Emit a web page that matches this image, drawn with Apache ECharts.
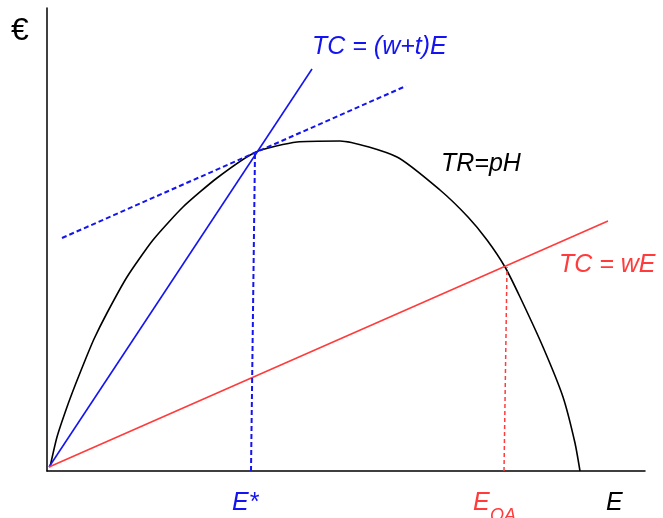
<!DOCTYPE html>
<html>
<head>
<meta charset="utf-8">
<script src="https://cdn.jsdelivr.net/npm/echarts@6/dist/echarts.min.js"></script>
<style>html,body{margin:0;padding:0;background:#fff;}#c{width:663px;height:518px;}</style>
</head>
<body>
<div id="c"></div>
<script>
// Total revenue curve TR = pH (E, euros)
var trCurve = [[3,4],[10,34],[20,64],[29,88],[39,113],[47,132],[60,158],[80,194],[106,231],[136,264],[170,293],[209,319],[250,329],[293,330],[350,314],[393,281],[421,254],[440,231],[458,204],[473,174],[496,124],[516,74],[528,28],[533,0]];
// TC = (w+t)E
var tcTax = [[2,4],[265,402]];
// TC = wE
var tcWage = [[2,4],[561,250]];
// tangent line at E*
var tangent = [[15,233],[359,385]];
// drop lines
var dropStar = [[204,0],[208,319]];
var dropOA = [[457,0],[460,204]];

var BLUE = '#1414f0', RED = '#ff3b3b';
var FONT = '"Liberation Sans", Arial, sans-serif';
var chart = echarts.init(document.getElementById('c'));
chart.setOption({
  animation: false,
  grid: {left: 47, right: 18, top: 8, bottom: 47},
  xAxis: {type: 'value', min: 0, max: 598, axisLine: {show: true, lineStyle: {color: '#000', width: 1.5}}, axisTick: {show: false}, axisLabel: {show: false}, splitLine: {show: false}},
  yAxis: {type: 'value', min: 0, max: 463, axisLine: {show: true, lineStyle: {color: '#000', width: 1.5}}, axisTick: {show: false}, axisLabel: {show: false}, splitLine: {show: false}},
  series: [
    {type: 'line', data: trCurve, symbol: 'none', smooth: 0.2, lineStyle: {color: '#000', width: 1.6}},
    {type: 'line', data: tcTax, symbol: 'none', lineStyle: {color: BLUE, width: 1.6}},
    {type: 'line', data: tcWage, symbol: 'none', lineStyle: {color: RED, width: 1.6}},
    {type: 'line', data: tangent, symbol: 'none', lineStyle: {color: BLUE, width: 2, type: [5,3]}},
    {type: 'line', data: dropStar, symbol: 'none', lineStyle: {color: BLUE, width: 2, type: [5,3]}},
    {type: 'line', data: dropOA, symbol: 'none', lineStyle: {color: RED, width: 1.5, type: [4,3]}}
  ],
  graphic: [
    {type: 'text', left: 11, top: 15, style: {text: '€', font: '32px ' + FONT, fill: '#000'}},
    {type: 'text', left: 312, top: 35, style: {text: 'TC = (w+t)E', font: 'italic 25px ' + FONT, fill: BLUE}},
    {type: 'text', left: 441, top: 152, style: {text: 'TR=pH', font: 'italic 25px ' + FONT, fill: '#000'}},
    {type: 'text', left: 559, top: 253, style: {text: 'TC = wE', font: 'italic 25px ' + FONT, fill: RED}},
    {type: 'text', left: 232, top: 491, style: {text: 'E*', font: 'italic 25px ' + FONT, fill: BLUE}},
    {type: 'text', left: 473, top: 491, style: {text: 'E', font: 'italic 25px ' + FONT, fill: RED}},
    {type: 'text', left: 490, top: 507, style: {text: 'OA', font: 'italic 18px ' + FONT, fill: RED}},
    {type: 'text', left: 606, top: 491, style: {text: 'E', font: 'italic 25px ' + FONT, fill: '#000'}}
  ]
});
</script>
</body>
</html>
